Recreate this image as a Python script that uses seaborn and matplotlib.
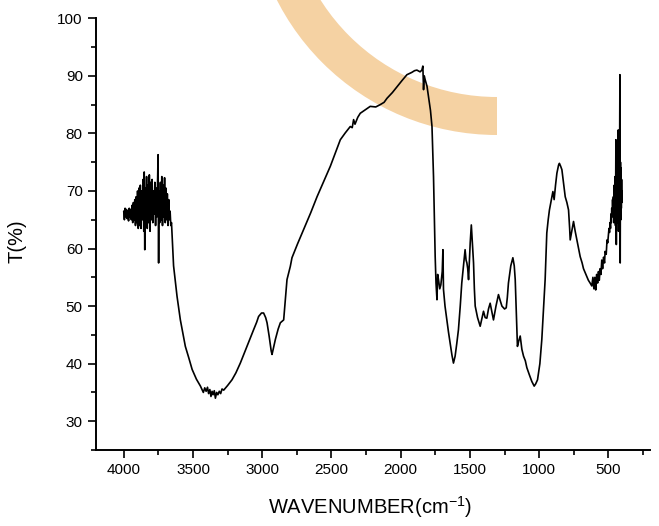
import matplotlib
matplotlib.use("Agg")
import matplotlib.pyplot as plt
import seaborn as sns
import pandas as pd
from matplotlib.patches import Wedge
from matplotlib.ticker import MultipleLocator

# ---- data, by spectral region ----
# 4000-3650 cm-1 : noisy plateau
wn_a = [4000, 3995, 3990, 3985, 3980, 3975, 3970, 3965, 3960, 3955, 3950, 3945, 3940,
        3935, 3930, 3925, 3920, 3915, 3910, 3905, 3900, 3895, 3890, 3885, 3880, 3875,
        3870, 3865, 3860, 3855, 3852, 3848, 3845, 3840, 3835, 3830, 3825, 3820, 3815,
        3810, 3805, 3800, 3795, 3790, 3785, 3780, 3775, 3770, 3765, 3760, 3755, 3752,
        3748, 3745, 3740, 3735, 3730, 3725, 3720, 3715, 3710, 3705, 3700, 3695, 3690,
        3685, 3680, 3675, 3670, 3665, 3660, 3655, 3650]
t_a = [66.5, 65.0, 67.0, 65.5, 66.8, 65.2, 66.5, 64.8, 67.0, 65.5, 66.8, 65.0, 67.5,
       64.5, 68.0, 65.0, 68.5, 64.0, 69.0, 64.5, 70.0, 63.5, 70.5, 64.0, 71.0, 63.5,
       70.0, 65.0, 72.0, 63.0, 73.3, 59.8, 70.5, 64.0, 72.5, 63.5, 71.0, 64.5, 72.8,
       63.0, 71.5, 65.0, 72.0, 64.5, 70.0, 66.0, 71.5, 64.0, 70.5, 65.5, 72.0, 76.3,
       57.5, 70.0, 64.5, 71.5, 65.0, 72.5, 64.0, 71.0, 65.5, 72.3, 64.5, 70.5, 65.0,
       69.5, 64.0, 68.5, 65.0, 66.5, 64.0, 64.5, 62.0]

# 3650-1750 cm-1 : O-H band, C-H, broad rise
wn_b = [3640, 3615, 3591, 3555, 3530, 3506, 3475, 3446, 3425, 3415, 3405, 3395, 3387,
        3378, 3370, 3362, 3355, 3346, 3338, 3329, 3320, 3310, 3300, 3290, 3278, 3250,
        3218, 3190, 3158, 3135, 3110, 3085, 3062, 3040, 3026, 3005, 2990, 2975, 2965,
        2950, 2935, 2929, 2918, 2905, 2885, 2869, 2855, 2845, 2835, 2821, 2797, 2785,
        2745, 2701, 2650, 2604, 2555, 2508, 2470, 2436, 2400, 2364, 2350, 2340, 2330,
        2310, 2292, 2250, 2220, 2180, 2148, 2120, 2099, 2060, 2027, 1990, 1955, 1920,
        1900, 1883, 1860, 1847, 1840, 1835, 1830, 1823, 1810, 1799, 1785, 1774, 1763]
t_b = [57.0, 51.7, 47.6, 43.0, 41.0, 39.0, 37.3, 36.1, 35.0, 35.8, 35.2, 35.9, 34.8,
       35.5, 34.3, 35.2, 34.6, 35.3, 34.0, 35.0, 34.6, 35.2, 34.8, 35.6, 35.4, 36.2,
       37.2, 38.4, 40.1, 41.5, 43.0, 44.5, 45.9, 47.2, 48.2, 48.8, 48.8, 48.0, 47.1,
       44.8, 42.2, 41.6, 42.8, 44.2, 46.0, 47.1, 47.4, 47.6, 50.5, 54.6, 56.9, 58.4,
       60.8, 63.3, 66.2, 69.0, 71.7, 74.3, 76.7, 78.9, 80.1, 81.2, 81.0, 82.4, 81.6,
       82.8, 83.5, 84.2, 84.7, 84.6, 85.0, 85.4, 86.1, 87.1, 88.1, 89.2, 90.2, 90.6,
       90.9, 91.0, 90.7, 91.0, 91.7, 87.6, 90.0, 89.3, 88.2, 86.4, 84.0, 81.2, 72.5]

# 1750-505 cm-1 : fingerprint region
wn_c = [1751, 1745, 1738, 1733, 1727, 1718, 1710, 1700, 1695, 1691, 1680, 1667, 1655,
        1643, 1630, 1619, 1612, 1607, 1595, 1583, 1570, 1559, 1547, 1535, 1528, 1522,
        1516, 1510, 1504, 1498, 1490, 1486, 1480, 1474, 1468, 1462, 1445, 1426, 1412,
        1402, 1390, 1378, 1366, 1354, 1342, 1330, 1312, 1294, 1282, 1269, 1250, 1238,
        1230, 1222, 1205, 1190, 1180, 1173, 1165, 1157, 1147, 1137, 1125, 1113, 1100,
        1089, 1070, 1053, 1036, 1025, 1012, 995, 981, 970, 957, 945, 935, 926, 912,
        901, 892, 882, 872, 860, 854, 845, 836, 825, 812, 800, 788, 780, 776, 765,
        752, 740, 728, 716, 704, 690, 680, 668, 655, 645, 632, 620, 612, 605, 598,
        592, 585, 578, 572, 566, 560, 554, 548, 542, 535, 528, 524, 516, 510, 505]
t_c = [58.6, 54.0, 51.1, 55.5, 54.6, 53.0, 53.7, 56.0, 59.8, 52.9, 50.0, 47.6, 45.5,
       43.6, 41.5, 40.1, 40.8, 41.3, 43.5, 45.9, 50.0, 54.0, 57.0, 59.8, 58.0, 57.5,
       56.5, 54.6, 58.0, 61.0, 64.1, 62.4, 60.0, 57.5, 53.0, 50.0, 48.0, 46.5, 48.0,
       49.1, 48.0, 47.9, 49.5, 50.5, 49.0, 47.6, 50.0, 52.0, 51.0, 50.0, 49.5, 49.7,
       51.5, 54.0, 57.0, 58.4, 57.0, 54.6, 48.5, 43.0, 44.0, 44.8, 42.5, 41.3, 40.5,
       39.3, 38.0, 36.9, 36.1, 36.5, 37.2, 40.0, 44.2, 49.0, 54.6, 62.7, 65.0, 66.7,
       68.5, 69.9, 68.5, 71.0, 73.1, 74.5, 74.8, 74.3, 73.7, 71.5, 69.0, 68.0, 66.7,
       63.5, 61.5, 63.0, 64.7, 63.0, 61.5, 60.0, 58.6, 57.5, 56.5, 55.8, 55.0, 54.5,
       54.0, 53.5, 55.0, 53.0, 55.0, 52.8, 55.5, 54.0, 56.0, 54.5, 56.5, 55.5, 58.0,
       56.5, 58.5, 57.5, 59.5, 59.0, 61.5, 61.0]

# 500-400 cm-1 : noisy low-frequency end
wn_d = [500, 496, 492, 488, 485, 482, 479, 476, 473, 470, 467, 464, 461, 458, 455, 452,
        449, 446, 443, 440, 437, 434, 431, 429, 427, 424, 421, 419, 417, 415, 413, 411,
        409, 407, 405, 403, 401]
t_d = [62.5, 63.5, 62.8, 64.5, 63.5, 66.0, 64.5, 67.0, 65.5, 68.5, 66.0, 69.0, 64.5,
       71.0, 65.5, 72.5, 64.0, 78.9, 60.7, 73.0, 66.0, 75.0, 64.5, 80.6, 63.0, 76.0,
       66.0, 78.0, 90.2, 57.5, 75.0, 65.0, 74.0, 67.0, 72.0, 68.0, 70.0]

x_ticks = [4000, 3500, 3000, 2500, 2000, 1500, 1000, 500]
y_ticks = [30, 40, 50, 60, 70, 80, 90, 100]
x_label = r"WAVENUMBER(cm$^{-1}$)"
y_label = "T(%)"

wavenumber = wn_a + wn_b + wn_c + wn_d
transmittance = t_a + t_b + t_c + t_d
assert len(wavenumber) == len(transmittance)
df = pd.DataFrame({"wn": wavenumber, "T": transmittance})

sns.set_theme(style="ticks")
plt.rcParams["font.family"] = ["Liberation Sans", "DejaVu Sans"]
plt.rcParams["mathtext.fontset"] = "custom"
plt.rcParams["mathtext.rm"] = "Liberation Sans"
plt.rcParams["mathtext.it"] = "Liberation Sans"
plt.rcParams["mathtext.default"] = "regular"

fig = plt.figure(figsize=(6.59, 5.26), dpi=100)
fig.patch.set_facecolor("white")
ax = fig.add_axes([0.1457, 0.1445, 0.8406, 0.8207])
ax.set_facecolor("white")

# orange curved band (scan artefact in the reference)
band = Wedge((4.97, 6.38), 2.47, 180, 270, width=0.38,
             transform=fig.dpi_scale_trans, facecolor="#F5D2A3",
             edgecolor="none", zorder=0.5, clip_on=False)
ax.add_artist(band)

sns.lineplot(data=df, x="wn", y="T", sort=False, estimator=None,
             color="black", linewidth=1.2, ax=ax, zorder=2)

ax.set_xlim(4200, 200)
ax.set_ylim(25, 100)
ax.set_xticks(x_ticks)
ax.set_yticks(y_ticks)
ax.xaxis.set_minor_locator(MultipleLocator(250))
ax.yaxis.set_minor_locator(MultipleLocator(5))

for s in ["top", "right"]:
    ax.spines[s].set_visible(False)
for s in ["left", "bottom"]:
    ax.spines[s].set_linewidth(1.4)
    ax.spines[s].set_color("black")

ax.tick_params(axis="both", which="major", direction="out", length=6,
               width=1.2, colors="black", labelsize=11, pad=3.5)
ax.tick_params(axis="both", which="minor", direction="out", length=3.5,
               width=1.2, colors="black")

ax.set_xlabel(x_label, fontsize=14.5, color="black")
ax.set_ylabel(y_label, fontsize=14.5, color="black")
ax.xaxis.set_label_coords(0.495, -0.103)
ax.yaxis.set_label_coords(-0.125, 0.484)

fig.savefig("out.png", dpi=100, facecolor="white")
